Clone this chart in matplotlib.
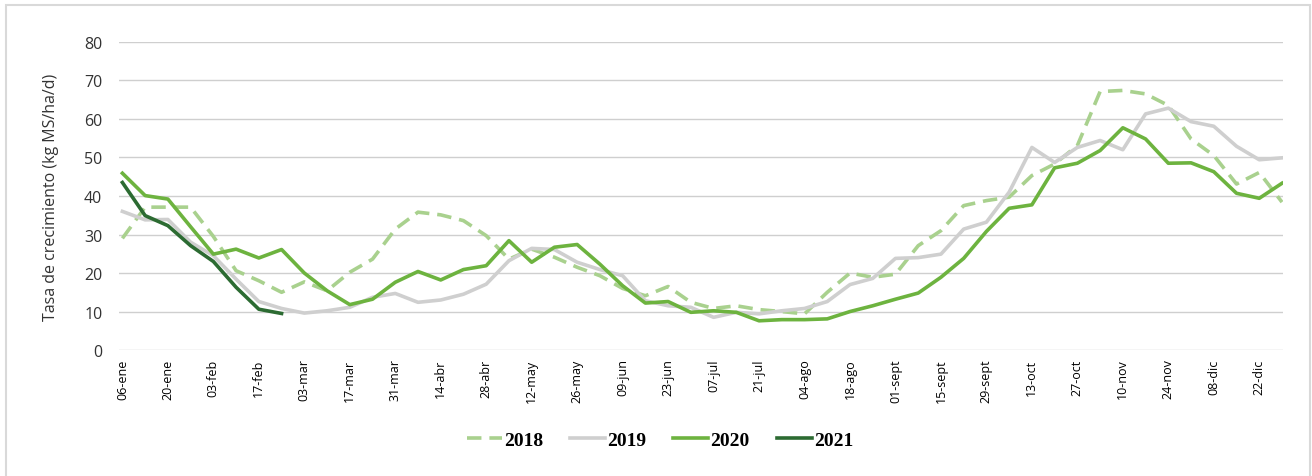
import matplotlib.pyplot as plt
from matplotlib.patches import Rectangle

# ==========================================
# DATOS (tasa de crecimiento semanal, kg MS/ha/d)
# ==========================================
semanas_etiquetas = ["06-ene", "20-ene", "03-feb", "17-feb", "03-mar", "17-mar", "31-mar",
                     "14-abr", "28-abr", "12-may", "26-may", "09-jun", "23-jun", "07-jul",
                     "21-jul", "04-ago", "18-ago", "01-sept", "15-sept", "29-sept", "13-oct",
                     "27-oct", "10-nov", "24-nov", "08-dic", "22-dic"]

tasa_2018 = [29.0, 37.1, 37.1, 37.1, 29.5, 20.6, 18.0, 15.0, 17.7, 15.4, 20.2, 23.6, 31.4,
             35.8, 35.1, 33.6, 29.7, 23.6, 26.2, 24.1, 21.5, 19.3, 16.0, 14.1, 16.5, 12.4,
             10.8, 11.5, 10.5, 10.0, 9.4, 15.0, 20.0, 18.9, 19.7, 27.1, 31.0, 37.5, 38.8,
             39.7, 45.3, 48.3, 53.1, 67.1, 67.4, 66.5, 63.5, 54.8, 50.5, 43.1, 46.1, 38.4]

tasa_2019 = [36.0, 33.8, 33.9, 28.0, 24.5, 18.4, 12.6, 10.8, 9.6, 10.2, 11.1, 13.7, 14.7,
             12.4, 13.0, 14.5, 17.1, 23.2, 26.4, 26.1, 22.8, 20.9, 19.3, 12.8, 11.5, 11.1,
             8.5, 9.8, 9.4, 10.2, 10.8, 12.6, 17.0, 18.6, 23.8, 24.0, 24.9, 31.4, 33.2,
             41.0, 52.6, 48.7, 52.6, 54.4, 52.0, 61.3, 62.8, 59.3, 58.1, 52.9, 49.4, 49.9]

tasa_2020 = [45.9, 40.1, 39.2, 32.0, 24.9, 26.2, 23.9, 26.1, 20.0, 15.4, 11.8, 13.2, 17.6,
             20.4, 18.2, 20.9, 21.9, 28.4, 22.8, 26.7, 27.4, 22.3, 16.7, 12.2, 12.6, 9.8,
             10.2, 9.8, 7.6, 7.9, 7.9, 8.1, 10.0, 11.5, 13.2, 14.8, 18.9, 23.8, 30.8,
             36.8, 37.7, 47.3, 48.5, 51.8, 57.7, 54.8, 48.5, 48.6, 46.3, 40.7, 39.4, 43.3]

tasa_2021 = [43.5, 34.9, 32.3, 27.1, 23.0, 16.3, 10.6, 9.5]

# ==========================================
# GRÁFICO
# ==========================================
fig = plt.figure(figsize=(13.12, 4.77), dpi=100)
ax = fig.add_axes([0.0907, 0.264, 0.8873, 0.6461])

ax.plot(range(len(tasa_2018)), tasa_2018, color='#A9D18E', linewidth=2.6,
        linestyle=(0, (4, 2.2)), label='2018')
ax.plot(range(len(tasa_2019)), tasa_2019, color='#CFCFCF', linewidth=2.6, label='2019')
ax.plot(range(len(tasa_2020)), tasa_2020, color='#6DB33F', linewidth=2.6, label='2020')
ax.plot(range(len(tasa_2021)), tasa_2021, color='#2C6B32', linewidth=2.6, label='2021')

ax.set_xlim(-0.15, 51.05)
ax.set_ylim(0, 80)
ax.set_yticks(range(0, 81, 10))
ax.set_xticks(range(0, 52, 2))
ax.set_xticklabels(semanas_etiquetas, rotation=90, fontsize=9, family='Open Sans')
ax.tick_params(axis='y', labelsize=11.5, length=0, pad=12)
ax.tick_params(axis='x', length=0, pad=6)
for lbl in ax.get_yticklabels():
    lbl.set_family('Open Sans')
    lbl.set_color('#333333')

ax.grid(axis='y', color='#CFCFCF', linewidth=1)
ax.set_axisbelow(True)
for s in ax.spines.values():
    s.set_visible(False)

ax.set_ylabel('Tasa de crecimiento (kg MS/ha/d)', fontsize=11.5, family='Open Sans',
              color='#333333', labelpad=18)

leg = fig.legend(loc='center', bbox_to_anchor=(0.503, 0.0755), ncol=4, frameon=False,
                 handlelength=1.8, handletextpad=0.1, columnspacing=1.4,
                 prop={'family': 'Liberation Serif', 'weight': 'bold', 'size': 14})

# Borde del área del gráfico
fig.patches.append(Rectangle((6 / 1312, -0.05), (1310 - 6) / 1312, 1.05 - 6 / 477,
                             transform=fig.transFigure, fill=False,
                             edgecolor='#D9D9D9', linewidth=1.5))

plt.savefig("out.png", dpi=100)
